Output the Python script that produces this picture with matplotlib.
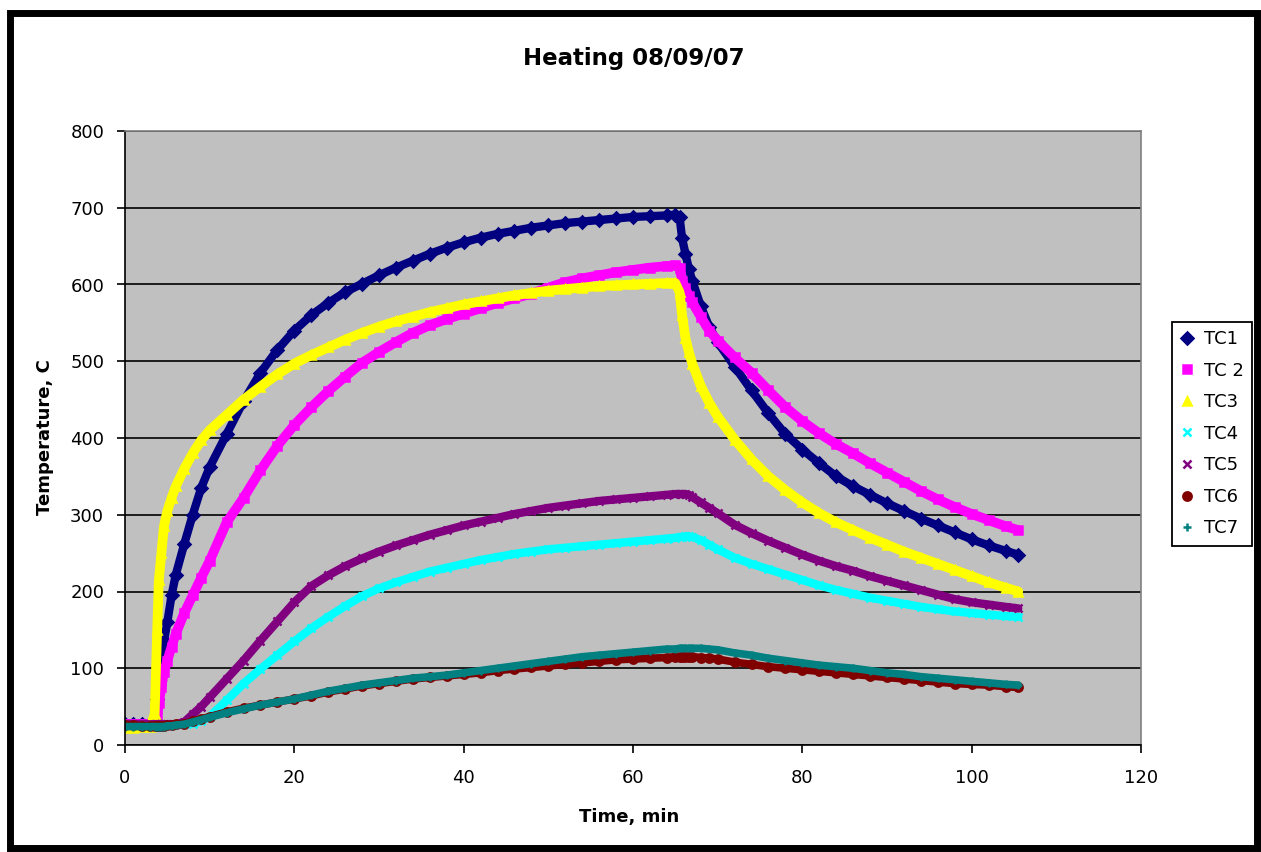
import matplotlib
matplotlib.use("Agg")
import matplotlib.pyplot as plt
from matplotlib.patches import Rectangle

# sample times, min
time_min = [
    0, 1, 2, 3, 3.5, 3.8, 4, 4.3, 4.6, 5, 5.5, 6, 7, 8, 9, 10,
    12, 14, 16, 18, 20, 22, 24, 26, 28, 30, 32, 34, 36, 38, 40,
    42, 44, 46, 48, 50, 52, 54, 56, 58, 60, 62, 64, 65, 65.5,
    65.8, 66.2, 66.6, 67, 68, 69, 70, 72, 74, 76, 78, 80, 82, 84,
    86, 88, 90, 92, 94, 96, 98, 100, 102, 104, 105.5,
]

tc1 = [
    28, 28, 28, 28, 32, 60, 85, 110, 135, 160, 195, 222, 262, 300, 335, 362,
    405, 448, 485, 515, 540, 560, 576, 590, 601, 612, 622, 631, 640, 648, 655,
    661, 666, 670, 674, 677, 680, 682, 684, 686, 688, 689, 690, 691, 688,
    660, 640, 620, 605, 572, 545, 525, 493, 462, 432, 405, 385, 367, 350,
    337, 326, 315, 305, 295, 286, 277, 268, 260, 253, 248,
]
tc2 = [
    27, 27, 27, 27, 28, 40, 55, 75, 95, 110, 128, 145, 172, 195, 218, 240,
    290, 322, 358, 390, 417, 440, 461, 480, 498, 512, 525, 537, 547, 555, 562,
    569, 576, 582, 588, 596, 603, 608, 612, 616, 619, 622, 624, 625, 622,
    605, 595, 585, 577, 558, 540, 527, 505, 485, 462, 440, 422, 406, 392,
    380, 367, 355, 343, 331, 320, 310, 301, 293, 285, 280,
]
tc3 = [
    22, 22, 23, 24, 40, 150, 215, 250, 285, 305, 322, 337, 360, 380, 397, 410,
    430, 450, 467, 483, 497, 508, 518, 528, 537, 545, 552, 558, 564, 569, 574,
    578, 582, 586, 589, 592, 594, 596, 598, 599, 600, 601, 602, 602, 590,
    560, 530, 512, 497, 468, 446, 428, 398, 372, 350, 332, 316, 302, 290,
    280, 270, 261, 252, 244, 236, 228, 220, 212, 205, 200,
]
tc4 = [
    26, 26, 26, 26, 26, 26, 26, 26, 26, 26, 27, 27, 27, 28, 31, 37,
    58, 80, 99, 117, 135, 152, 167, 181, 194, 204, 212, 219, 226, 231, 236,
    241, 245, 249, 252, 255, 257, 259, 261, 263, 265, 267, 269, 270, 271,
    271, 272, 272, 271, 267, 261, 255, 244, 236, 229, 222, 215, 208, 202,
    197, 192, 188, 184, 180, 177, 174, 172, 170, 168, 167,
]
tc5 = [
    27, 27, 27, 27, 27, 27, 27, 27, 27, 27, 27, 27, 30, 40, 50, 62,
    86, 110, 136, 161, 186, 207, 221, 233, 243, 252, 260, 267, 274, 280, 286,
    291, 296, 301, 305, 309, 312, 315, 318, 320, 322, 324, 326, 327, 327,
    327, 327, 326, 323, 316, 309, 302, 287, 276, 266, 257, 248, 240, 233,
    227, 220, 214, 208, 202, 196, 190, 186, 183, 180, 178,
]
tc6 = [
    26, 26, 25, 25, 25, 25, 25, 25, 25, 26, 26, 27, 28, 31, 34, 37,
    43, 48, 52, 56, 60, 64, 69, 73, 77, 80, 83, 86, 88, 90, 92,
    94, 97, 99, 101, 103, 105, 107, 109, 111, 112, 113, 114, 115, 115,
    115, 115, 115, 115, 114, 113, 112, 108, 105, 102, 100, 98, 96, 94,
    92, 90, 88, 86, 84, 82, 80, 79, 78, 76, 75,
]
tc7 = [
    24, 24, 24, 24, 24, 24, 24, 24, 24, 25, 25, 26, 27, 30, 33, 36,
    42, 47, 52, 56, 60, 65, 70, 74, 78, 81, 84, 87, 89, 91, 94,
    97, 100, 103, 106, 109, 112, 115, 117, 119, 121, 123, 125, 125, 126,
    126, 126, 126, 126, 126, 125, 124, 120, 117, 113, 110, 107, 104, 102,
    100, 97, 94, 92, 89, 87, 85, 83, 81, 79, 78,
]

series_names = ["TC1", "TC 2", "TC3", "TC4", "TC5", "TC6", "TC7"]
series_values = [tc1, tc2, tc3, tc4, tc5, tc6, tc7]
colors = ["#000080", "#FF00FF", "#FFFF00", "#00FFFF", "#800080", "#800000", "#008080"]
markers = ["D", "s", "^", "x", "x", "o", "+"]
band_width = [6.0, 7.0, 7.0, 6.0, 6.0, 5.5, 5.5]

fig = plt.figure(figsize=(12.61, 8.52), dpi=100)
fig.patch.set_facecolor("white")

# thick black frame round the whole chart
fig.patches.append(
    Rectangle((10 / 1261, 4 / 852), 1247 / 1261, 835 / 852, transform=fig.transFigure,
              fill=False, edgecolor="black", linewidth=5, zorder=10)
)

ax = fig.add_axes([125 / 1261, 1 - 745 / 852, 1016 / 1261, 614 / 852])
ax.set_facecolor("#C0C0C0")

for name, vals, c, m, bw in zip(series_names, series_values, colors, markers, band_width):
    # dense logger samples show up as a thick band of markers
    ax.plot(time_min, vals, "-", color=c, linewidth=bw, solid_capstyle="round",
            solid_joinstyle="round")
    ax.plot(time_min, vals, linestyle="none", marker=m, color=c, markersize=6,
            markeredgewidth=1.8, label=name)

ax.set_xlim(0, 120)
ax.set_ylim(0, 800)
ax.set_xticks(range(0, 121, 20))
ax.set_yticks(range(0, 801, 100))
ax.yaxis.grid(True, color="black", linewidth=1.2)
ax.set_axisbelow(True)
ax.tick_params(axis="both", direction="out", length=6, width=1.2, labelsize=13,
               colors="black")
ax.tick_params(axis="x", pad=11)
ax.tick_params(axis="y", pad=9)
for side in ["left", "bottom"]:
    ax.spines[side].set_color("black")
    ax.spines[side].set_linewidth(1.2)
for side in ["top", "right"]:
    ax.spines[side].set_color("#808080")
    ax.spines[side].set_linewidth(1.2)

fig.text(634 / 1261, 1 - 58 / 852, "Heating 08/09/07", ha="center", va="center",
         fontsize=16.5, fontweight="bold")
fig.text(629 / 1261, 1 - 817 / 852, "Time, min", ha="center", va="center",
         fontsize=13, fontweight="bold")
fig.text(45 / 1261, 1 - 437 / 852, "Temperature, C", ha="center", va="center",
         rotation=90, fontsize=13, fontweight="bold")

leg = fig.legend(loc="upper left", bbox_to_anchor=(1172 / 1261, 1 - 322 / 852),
                 bbox_transform=fig.transFigure, fontsize=13, frameon=True,
                 fancybox=False, borderpad=0.45, labelspacing=0.75,
                 handlelength=0.8, handletextpad=0.5, borderaxespad=0,
                 numpoints=1, markerscale=1.0)
leg.get_frame().set_edgecolor("black")
leg.get_frame().set_linewidth(1.3)
leg.get_frame().set_alpha(1)

fig.savefig("out.png", dpi=100)
